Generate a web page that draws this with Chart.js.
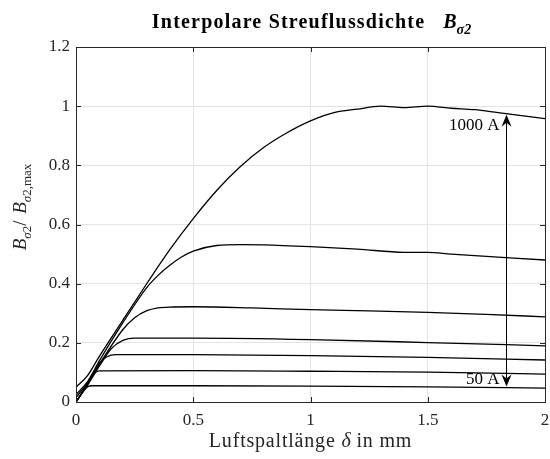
<!DOCTYPE html>
<html>
<head>
<meta charset="utf-8">
<script src="https://cdn.jsdelivr.net/npm/chart.js@4.4.1/dist/chart.umd.min.js"></script>
<style>
    html, body { margin: 0; padding: 0; background: #fff; }
</style>
</head>
<body>
<canvas id="chart" width="550" height="459"></canvas>
<script>
// Curve data (air gap delta in mm, normalized flux density)
// ----------------------------------------------
const x1000 = [0, 0.05, 0.1, 0.2, 0.3, 0.4, 0.5, 0.6, 0.7, 0.8, 0.9, 1.0, 1.1, 1.2, 1.3, 1.4, 1.5, 1.6, 1.7, 1.8, 1.9, 2.0];
const y1000 = [0.05, 0.09, 0.155, 0.277, 0.398, 0.515, 0.62, 0.715, 0.795, 0.86, 0.91, 0.95, 0.978, 0.99, 1.0, 0.995, 1.0, 0.993, 0.988, 0.978, 0.968, 0.958];

const x500 = [0, 0.05, 0.1, 0.2, 0.3, 0.35, 0.4, 0.45, 0.5, 0.6, 0.7, 0.8, 1.0, 1.2, 1.4, 1.5, 1.6, 1.8, 2.0];
const y500 = [0.025, 0.07, 0.14, 0.268, 0.385, 0.428, 0.462, 0.49, 0.51, 0.529, 0.532, 0.531, 0.525, 0.517, 0.506, 0.506, 0.5, 0.49, 0.48];

const x300 = [0, 0.05, 0.1, 0.2, 0.25, 0.3, 0.35, 0.4, 0.5, 0.75, 1.0, 1.25, 1.5, 1.75, 2.0];
const y300 = [0.015, 0.065, 0.128, 0.245, 0.285, 0.308, 0.318, 0.321, 0.322, 0.318, 0.312, 0.308, 0.303, 0.296, 0.288];

const x200 = [0, 0.05, 0.1, 0.15, 0.2, 0.25, 0.5, 1.0, 1.5, 2.0];
const y200 = [0, 0.058, 0.122, 0.18, 0.208, 0.216, 0.216, 0.211, 0.201, 0.19];

const x150 = [0, 0.05, 0.1, 0.13, 0.17, 0.5, 1.0, 1.5, 2.0];
const y150 = [0, 0.06, 0.132, 0.152, 0.16, 0.16, 0.157, 0.151, 0.142];

const x100 = [0, 0.04, 0.07, 0.1, 0.5, 1.0, 1.5, 2.0];
const y100 = [0, 0.05, 0.09, 0.105, 0.106, 0.104, 0.101, 0.094];

const x50 = [0, 0.03, 0.05, 0.07, 0.5, 1.0, 1.5, 2.0];
const y50 = [0, 0.035, 0.052, 0.055, 0.055, 0.054, 0.051, 0.047];

const xTicks = [0, 0.5, 1, 1.5, 2];
const yTicks = [0, 0.2, 0.4, 0.6, 0.8, 1, 1.2];

// Double arrow annotation (data coords)
const arrowX = 1.832;
const arrowFrom = 0.052;
const arrowTo = 0.971;
const arrowLabels = ['1000 A', '50 A'];

const serif = '"Liberation Serif", "Times New Roman", serif';



// Helpers
// ----------------------------------------------
const toPoints = (xs, ys) => xs.map((x, i) => ({ x: x, y: ys[i] }));

// draw a row of text pieces, each with own font, spacing and baseline shift
let drawRuns = (ctx, runs, x, y, align) => {
    let total = 0;
    runs.forEach(r => {
        ctx.font = r.font;
        ctx.letterSpacing = r.ls || '0px';
        r.w = ctx.measureText(r.t).width;
        total += r.w + (r.gap || 0);
    });
    let cx = align === 'center' ? x - total / 2 : (align === 'right' ? x - total : x);
    ctx.textAlign = 'left';
    ctx.textBaseline = 'alphabetic';
    runs.forEach(r => {
        ctx.font = r.font;
        ctx.letterSpacing = r.ls || '0px';
        ctx.fillText(r.t, cx, y + (r.dy || 0));
        cx += r.w + (r.gap || 0);
    });
    ctx.letterSpacing = '0px';
};



// Plugin: box, inner ticks, titles, arrow
// ----------------------------------------------
const decorPlugin = {
    id: 'decor',
    afterDraw(chart) {
        const ctx = chart.ctx;
        const a = chart.chartArea;
        const xs = chart.scales.x, ys = chart.scales.y;

        ctx.save();
        ctx.strokeStyle = '#262626';
        ctx.lineWidth = 1;

        // inner ticks on all four sides
        ctx.beginPath();
        xTicks.forEach(v => {
            const px = Math.round(xs.getPixelForValue(v)) + 0.5;
            ctx.moveTo(px, a.bottom); ctx.lineTo(px, a.bottom - 5);
            ctx.moveTo(px, a.top); ctx.lineTo(px, a.top + 5);
        });
        yTicks.forEach(v => {
            const py = Math.round(ys.getPixelForValue(v)) + 0.5;
            ctx.moveTo(a.left, py); ctx.lineTo(a.left + 5, py);
            ctx.moveTo(a.right, py); ctx.lineTo(a.right - 5, py);
        });
        ctx.stroke();

        // box
        ctx.strokeRect(Math.round(a.left) + 0.5, Math.round(a.top) + 0.5,
            Math.round(a.right - a.left), Math.round(a.bottom - a.top));

        // double arrow
        const ax = Math.round(xs.getPixelForValue(arrowX)) + 0.5;
        const yTop = ys.getPixelForValue(arrowTo);
        const yBot = ys.getPixelForValue(arrowFrom);
        const hl = 12, hw = 5, notch = 4;
        ctx.strokeStyle = '#000';
        ctx.fillStyle = '#000';
        ctx.beginPath();
        ctx.moveTo(ax, yTop + hl - notch);
        ctx.lineTo(ax, yBot - hl + notch);
        ctx.stroke();
        ctx.beginPath();
        ctx.moveTo(ax, yTop);
        ctx.lineTo(ax + hw, yTop + hl);
        ctx.lineTo(ax, yTop + hl - notch);
        ctx.lineTo(ax - hw, yTop + hl);
        ctx.closePath();
        ctx.fill();
        ctx.beginPath();
        ctx.moveTo(ax, yBot);
        ctx.lineTo(ax + hw, yBot - hl);
        ctx.lineTo(ax, yBot - hl + notch);
        ctx.lineTo(ax - hw, yBot - hl);
        ctx.closePath();
        ctx.fill();

        ctx.fillStyle = '#000';
        ctx.font = '17px ' + serif;
        ctx.textAlign = 'right';
        ctx.textBaseline = 'middle';
        ctx.fillText(arrowLabels[0], ax - 7, yTop + 11);
        ctx.fillText(arrowLabels[1], ax - 7, yBot - 7);

        // title
        ctx.fillStyle = '#000';
        drawRuns(ctx, [
            { t: 'Interpolare Streuflussdichte', font: 'bold 20px ' + serif, ls: '1.2px', gap: 18 },
            { t: 'B', font: 'italic bold 20px ' + serif },
            { t: '\u03c32', font: 'italic bold 14px ' + serif, dy: 6 }
        ], (a.left + a.right) / 2 + 1, 28, 'center');

        // x axis title
        ctx.fillStyle = '#262626';
        drawRuns(ctx, [
            { t: 'Luftspaltl\u00e4nge ', font: '20px ' + serif, ls: '0.8px' },
            { t: '\u03b4', font: 'italic 20px ' + serif },
            { t: ' in mm', font: '20px ' + serif, ls: '0.8px' }
        ], (a.left + a.right) / 2, 447, 'center');

        // y axis title (rotated)
        ctx.save();
        ctx.translate(26, 207);
        ctx.rotate(-Math.PI / 2);
        drawRuns(ctx, [
            { t: 'B', font: 'italic 19px ' + serif },
            { t: '\u03c3', font: 'italic 13px ' + serif, dy: 5 },
            { t: '2', font: '13px ' + serif, dy: 5 },
            { t: '/ ', font: '19px ' + serif, gap: 2 },
            { t: 'B', font: 'italic 19px ' + serif },
            { t: '\u03c3', font: 'italic 13px ' + serif, dy: 5 },
            { t: '2,max', font: '13px ' + serif, dy: 5 }
        ], 0, 0, 'center');
        ctx.restore();

        ctx.restore();
    }
};



// Chart
// ----------------------------------------------
const curves = [
    ['1000 A', x1000, y1000],
    ['500 A', x500, y500],
    ['300 A', x300, y300],
    ['200 A', x200, y200],
    ['150 A', x150, y150],
    ['100 A', x100, y100],
    ['50 A', x50, y50]
];

const fluxChart = new Chart(document.getElementById('chart'), {
    type: 'line',
    data: {
        datasets: curves.map(c => ({
            label: c[0],
            data: toPoints(c[1], c[2]),
            borderColor: '#000',
            borderWidth: 1.3,
            pointRadius: 0,
            cubicInterpolationMode: 'monotone',
            fill: false
        }))
    },
    options: {
        responsive: false,
        animation: false,
        layout: { padding: { left: 0, top: 47, right: 5, bottom: 0 } },
        plugins: {
            legend: { display: false },
            tooltip: { enabled: false },
            title: { display: false }
        },
        scales: {
            x: {
                type: 'linear',
                min: 0,
                max: 2,
                afterFit: s => { s.height = 57; s.paddingLeft = 0; s.paddingRight = 0; },
                afterBuildTicks: s => { s.ticks = xTicks.map(v => ({ value: v })); },
                grid: { color: '#e4e4e4', drawTicks: false },
                border: { display: false },
                ticks: {
                    padding: 8,
                    color: '#262626',
                    font: { family: serif, size: 17 },
                    callback: v => String(v)
                }
            },
            y: {
                type: 'linear',
                min: 0,
                max: 1.2,
                afterFit: s => { s.width = 76; s.paddingTop = 0; s.paddingBottom = 0; },
                afterBuildTicks: s => { s.ticks = yTicks.map(v => ({ value: v })); },
                grid: { color: '#e4e4e4', drawTicks: false },
                border: { display: false },
                ticks: {
                    padding: 6,
                    color: '#262626',
                    font: { family: serif, size: 17 },
                    callback: v => String(v)
                }
            }
        }
    },
    plugins: [decorPlugin]
});
</script>
</body>
</html>
